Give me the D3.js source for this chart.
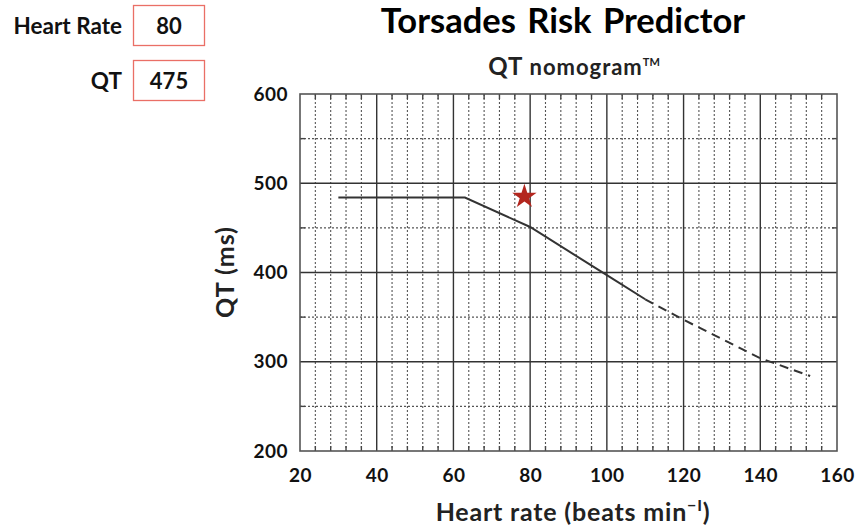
<!DOCTYPE html>
<html>
<head>
<meta charset="utf-8">
<script src="https://cdn.jsdelivr.net/npm/d3@7"></script>
<style>
    body { margin: 0; background: #fff; }
    svg text { font-family: Lato, "Open Sans", sans-serif; font-weight: bold; fill: #111; }
</style>
</head>
<body>
<svg class="chart"></svg>
<script>
// input boxes
var inputLabels = ["Heart Rate", "QT"];
var inputValues = [80, 475];

// axes
var xTicks = [20, 40, 60, 80, 100, 120, 140, 160];
var yTicks = [200, 300, 400, 500, 600];
var yMinor = [250, 350, 450, 550];

// nomogram line (heart rate, QT)
var solidHR = [30, 63, 80, 100, 110];
var solidQT = [484, 484, 451, 397, 370];
var dashedHR = [110, 120, 140, 153];
var dashedQT = [370, 347, 304, 284];

// plotted patient point
var markerHR = 78.5;
var markerQT = 485;

var outerSize = {width: 857, height: 531};
var plot = {left: 300, right: 837, top: 94, bottom: 451};

var svg = d3.select(".chart")
        .attr("width", outerSize.width)
        .attr("height", outerSize.height);

var xRange = d3.scaleLinear().domain([20, 160]).range([plot.left, plot.right]);
var yRange = d3.scaleLinear().domain([200, 600]).range([plot.bottom, plot.top]);

// ---- input boxes on the left
var inputs = svg.selectAll(".input")
        .data(inputLabels)
        .enter().append("g")
        .attr("class", "input")
        .attr("transform", function (d, i) {
            return "translate(0," + (i * 55) + ")";
        });
inputs.append("rect")
        .attr("x", 133.5).attr("y", 5.5)
        .attr("width", 71).attr("height", 40)
        .attr("fill", "none")
        .attr("stroke", "#ea6f66")
        .attr("stroke-width", 1.3);
inputs.append("text")
        .attr("x", 122).attr("y", 26)
        .attr("dy", "0.35em")
        .attr("text-anchor", "end")
        .style("font-size", "22.5px")
        .text(function (d) { return d; });
inputs.append("text")
        .attr("x", 169).attr("y", 26)
        .attr("dy", "0.35em")
        .attr("text-anchor", "middle")
        .style("font-size", "22px")
        .text(function (d, i) { return inputValues[i]; });

// ---- titles
svg.append("text")
        .attr("x", 563).attr("y", 33)
        .attr("text-anchor", "middle")
        .style("font-size", "34.5px")
        .style("word-spacing", "3px")
        .style("fill", "#000")
        .text("Torsades Risk Predictor");

var sub = svg.append("text")
        .attr("x", 574).attr("y", 75)
        .attr("text-anchor", "middle")
        .style("font-size", "24px")
        .style("letter-spacing", "1px")
        .style("fill", "#222");
sub.append("tspan").text("QT ");
sub.append("tspan").style("font-size", "22px").text("nomogram");
sub.append("tspan").attr("dy", -9).style("font-size", "11px").style("letter-spacing", "0px").text("TM");

// ---- grid
var grid = svg.append("g").attr("class", "grid");
var xMinor = d3.range(24, 160, 4).filter(function (v) { return v % 20 !== 0; });

grid.selectAll(".vminor")
        .data(xMinor)
        .enter().append("line")
        .attr("x1", function (d) { return xRange(d); })
        .attr("x2", function (d) { return xRange(d); })
        .attr("y1", plot.top).attr("y2", plot.bottom)
        .attr("stroke", "#555")
        .attr("stroke-width", 1.1)
        .attr("stroke-dasharray", "2,2");
grid.selectAll(".hminor")
        .data(yMinor)
        .enter().append("line")
        .attr("y1", function (d) { return yRange(d); })
        .attr("y2", function (d) { return yRange(d); })
        .attr("x1", plot.left).attr("x2", plot.right)
        .attr("stroke", "#555")
        .attr("stroke-width", 1.1)
        .attr("stroke-dasharray", "2,2");

// small inward ticks on the frame
var tickLen = 5;
xMinor.forEach(function (v) {
    [[plot.bottom, plot.bottom - tickLen], [plot.top, plot.top + tickLen]].forEach(function (p) {
        grid.append("line")
                .attr("x1", xRange(v)).attr("x2", xRange(v))
                .attr("y1", p[0]).attr("y2", p[1])
                .attr("stroke", "#444").attr("stroke-width", 1.4);
    });
});
yMinor.forEach(function (v) {
    [[plot.left, plot.left + tickLen], [plot.right, plot.right - tickLen]].forEach(function (p) {
        grid.append("line")
                .attr("y1", yRange(v)).attr("y2", yRange(v))
                .attr("x1", p[0]).attr("x2", p[1])
                .attr("stroke", "#444").attr("stroke-width", 1.4);
    });
});

// major lines
grid.selectAll(".vmajor")
        .data(xTicks.slice(1, -1))
        .enter().append("line")
        .attr("x1", function (d) { return xRange(d); })
        .attr("x2", function (d) { return xRange(d); })
        .attr("y1", plot.top).attr("y2", plot.bottom)
        .attr("stroke", "#333")
        .attr("stroke-width", 1.4);
grid.selectAll(".hmajor")
        .data(yTicks.slice(1, -1))
        .enter().append("line")
        .attr("y1", function (d) { return yRange(d); })
        .attr("y2", function (d) { return yRange(d); })
        .attr("x1", plot.left).attr("x2", plot.right)
        .attr("stroke", "#333")
        .attr("stroke-width", 1.4);

svg.append("rect")
        .attr("x", plot.left).attr("y", plot.top)
        .attr("width", plot.right - plot.left)
        .attr("height", plot.bottom - plot.top)
        .attr("fill", "none")
        .attr("stroke", "#555")
        .attr("stroke-width", 1.6);

// ---- axes (labels only)
var xAxis = svg.append("g")
        .attr("class", "x axis")
        .attr("transform", "translate(0," + (plot.bottom + 10) + ")")
        .call(d3.axisBottom(xRange).tickValues(xTicks).tickSize(0).tickPadding(8));
var yAxis = svg.append("g")
        .attr("class", "y axis")
        .attr("transform", "translate(" + (plot.left - 12) + ",0)")
        .call(d3.axisLeft(yRange).tickValues(yTicks).tickSize(0).tickPadding(0));
svg.selectAll(".axis path").remove();
svg.selectAll(".axis text")
        .style("font-size", "19px")
        .style("font-family", "Lato, sans-serif")
        .style("font-weight", "bold")
        .style("letter-spacing", "0.5px")
        .attr("fill", "#222");

var xTitle = svg.append("text")
        .attr("x", 573).attr("y", 521)
        .attr("text-anchor", "middle")
        .style("font-size", "25px")
        .style("letter-spacing", "0.8px")
        .style("fill", "#222");
xTitle.append("tspan").text("Heart rate (beats min");
xTitle.append("tspan").attr("dy", -10).style("font-size", "16px").text("\u2212I");
xTitle.append("tspan").attr("dy", 10).text(")");

svg.append("text")
        .attr("transform", "translate(234,272) rotate(-90)")
        .attr("text-anchor", "middle")
        .style("font-size", "25px")
        .style("letter-spacing", "1px")
        .style("fill", "#222")
        .text("QT (ms)");

// ---- nomogram line
var line = d3.line()
        .x(function (d) { return xRange(d[0]); })
        .y(function (d) { return yRange(d[1]); });

svg.append("path")
        .datum(d3.zip(solidHR, solidQT))
        .attr("d", line)
        .attr("fill", "none")
        .attr("stroke", "#333")
        .attr("stroke-width", 2);
svg.append("path")
        .datum(d3.zip(dashedHR, dashedQT))
        .attr("d", line)
        .attr("fill", "none")
        .attr("stroke", "#333")
        .attr("stroke-width", 2)
        .attr("stroke-dasharray", "9,6");

// ---- patient marker
svg.append("path")
        .attr("d", d3.symbol(d3.symbolStar).size(185)())
        .attr("transform", "translate(" + xRange(markerHR) + "," + yRange(markerQT) + ")")
        .attr("fill", "#b3261e");
</script>
</body>
</html>
